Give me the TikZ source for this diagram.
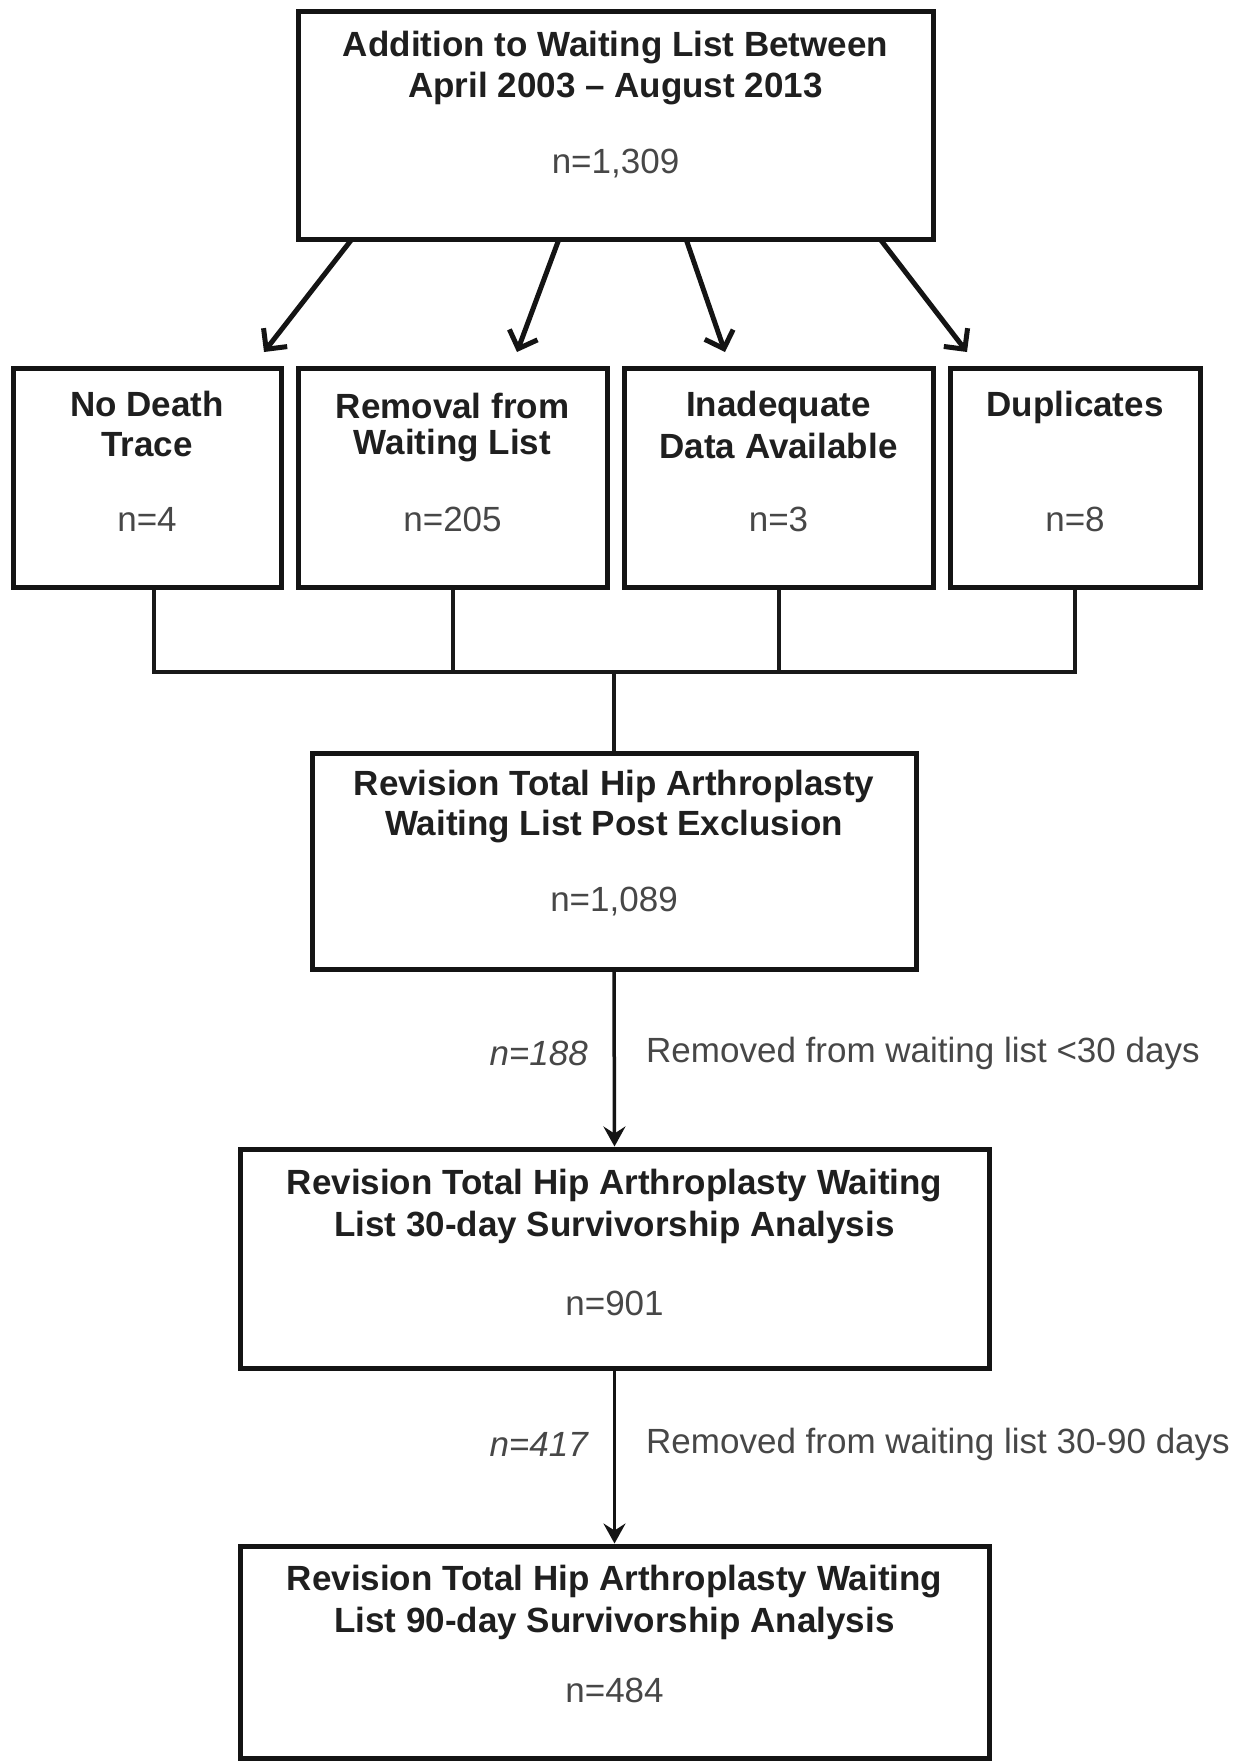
\documentclass[tikz,border=0pt]{standalone}
\usepackage{fontspec}
\setmainfont{Liberation Sans}
\usetikzlibrary{arrows.meta,calc}
\begin{document}
\begin{tikzpicture}[x=1pt,y=-1pt,
  box/.style={draw=black!92, line width=5pt, fill=white, inner sep=0pt},
  ttl/.style={font=\fontsize{35}{41}\selectfont\bfseries, align=center, inner sep=0pt, text=black!88},
  num/.style={font=\fontsize{35}{41}\selectfont, inner sep=0pt, text=black!72},
  lab/.style={font=\fontsize{35}{41}\selectfont, inner sep=0pt, text=black!72},
  conn/.style={draw=black!90, line width=4pt},
  darr/.style={draw=black!92, line width=5pt, -{Straight Barb[length=15pt,width=30pt,line width=5pt]}},
  varr/.style={draw=black!92, line width=3.5pt, -{Stealth[length=20pt,width=22pt,inset=7pt]}}]
\useasboundingbox[fill=white] (0,0) rectangle (1252,1762);

% boxes
\node[box, minimum width=635pt, minimum height=228pt] (b0) at (615.5,125) {};
\node[box, minimum width=268pt, minimum height=219pt] (b1) at (147,477.5) {};
\node[box, minimum width=309pt, minimum height=219pt] (b2) at (452.5,477.5) {};
\node[box, minimum width=309pt, minimum height=219pt] (b3) at (778.5,477.5) {};
\node[box, minimum width=250pt, minimum height=219pt] (b4) at (1075,477.5) {};
\node[box, minimum width=604pt, minimum height=216pt] (b5) at (614,861) {};
\node[box, minimum width=749pt, minimum height=219pt] (b6) at (614.5,1258.5) {};
\node[box, minimum width=749pt, minimum height=212pt] (b7) at (614.5,1652) {};

% texts
\node[ttl] (t0a) at (615.5,48) {Addition to Waiting List Between};
\node[ttl] (t0b) at (615.5,89) {April 2003 -- August 2013};
\node[num] (n0) at (615.5,164) {n=1,309};

\node[ttl] (t1a) at (147,404) {No Death};
\node[ttl] (t1b) at (147,445) {Trace};
\node[num] (n1) at (147,519) {n=4};

\node[ttl] (t2a) at (452.5,406) {Removal from};
\node[ttl] (t2b) at (452.5,446) {Waiting List};
\node[num] (n2) at (452.5,519) {n=205};

\node[ttl] (t3a) at (778.5,407) {Inadequate};
\node[ttl] (t3b) at (778.5,446) {Data Available};
\node[num] (n3) at (778.5,519) {n=3};

\node[ttl] (t4a) at (1075,407) {Duplicates};
\node[num] (n4) at (1075,519) {n=8};

\node[ttl] (t5a) at (614,786) {Revision Total Hip Arthroplasty};
\node[ttl] (t5b) at (614,827) {Waiting List Post Exclusion};
\node[num] (n5) at (614,902) {n=1,089};

\node[ttl] (t6a) at (614.5,1186) {Revision Total Hip Arthroplasty Waiting};
\node[ttl] (t6b) at (614.5,1227) {List 30-day Survivorship Analysis};
\node[num] (n6) at (614.5,1303) {n=901};

\node[ttl] (t7a) at (614.5,1582) {Revision Total Hip Arthroplasty Waiting};
\node[ttl] (t7b) at (614.5,1623) {List 90-day Survivorship Analysis};
\node[num] (n7) at (614.5,1690) {n=484};

% diagonal arrows
\coordinate (s1) at (352,239); \coordinate (e1) at (264,352);
\coordinate (s2) at (559,239); \coordinate (e2) at (517,352);
\coordinate (s3) at (686,239); \coordinate (e3) at (725,352);
\coordinate (s4) at (880,239); \coordinate (e4) at (967,352);
\draw[darr] (s1) -- (e1);
\draw[darr] (s2) -- (e2);
\draw[darr] (s3) -- (e3);
\draw[darr] (s4) -- (e4);

% bracket
\coordinate (j) at (614,672);
\coordinate (d1) at ($(b1.south)+(7,0)$);
\draw[conn] (d1) |- (b4.south |- j) -- (b4.south);
\draw[conn] (b2.south) -- (b2.south |- j);
\draw[conn] (b3.south) -- (b3.south |- j);
\draw[conn] (j) -- (b5.north);

% vertical arrows
\draw[varr] (b5.south) -- (b6.north);
\draw[varr] (b6.south) -- (b7.north);

% labels
\node[lab, anchor=east] (l1) at (588,1053) {\itshape n=188};
\node[lab, anchor=west] (r1) at (646,1053) {Removed from waiting list <30 days};
\node[lab, anchor=east] (l2) at (588,1444) {\itshape n=417};
\node[lab, anchor=west] (r2) at (646,1444) {Removed from waiting list 30-90 days};
\end{tikzpicture}
\end{document}
